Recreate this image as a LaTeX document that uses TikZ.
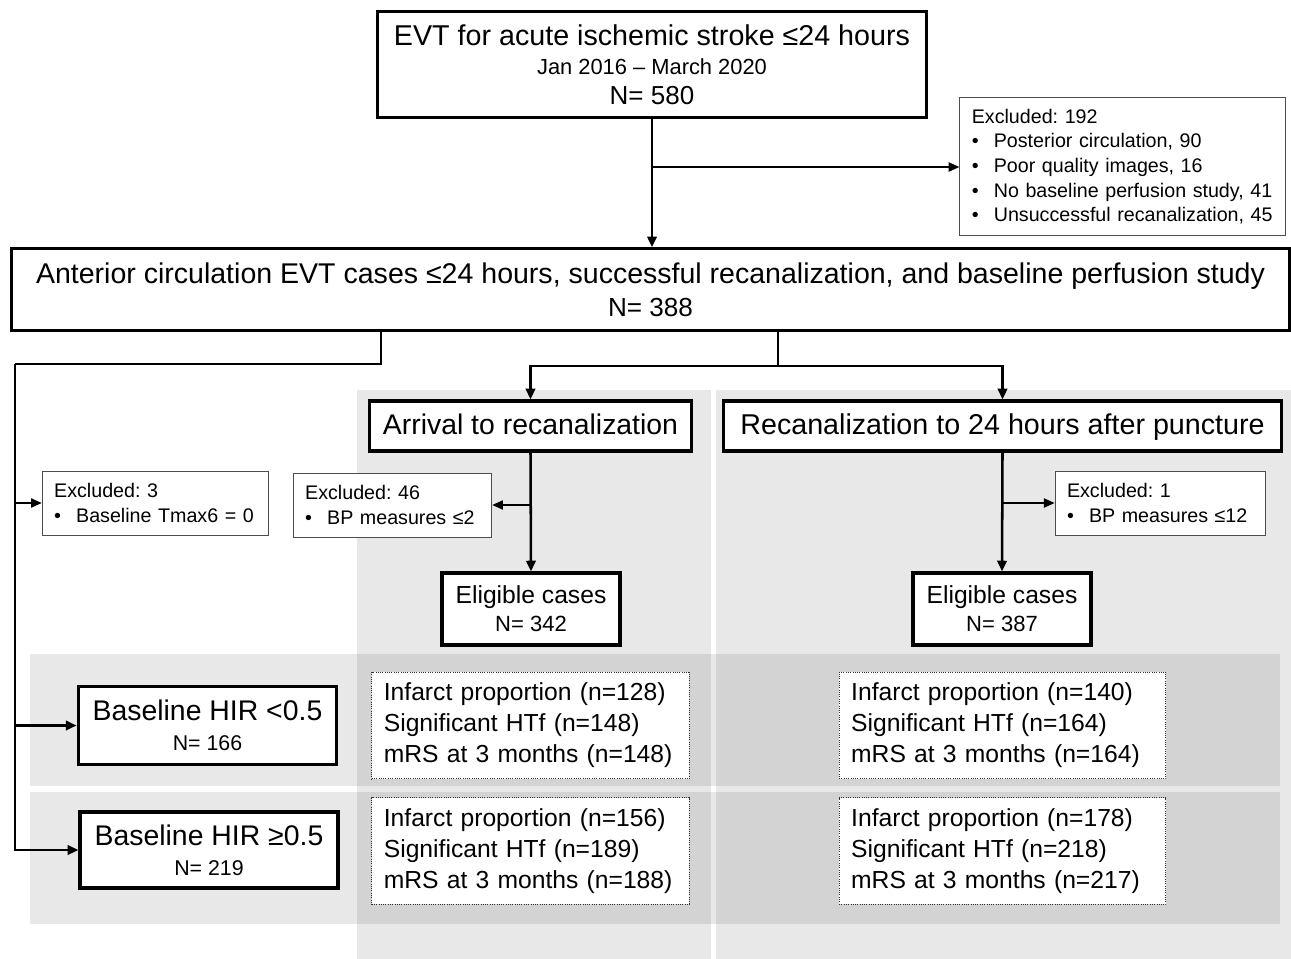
\documentclass[tikz,border=0pt]{standalone}
\usepackage{fontspec}
\setmainfont{Liberation Sans}
\usetikzlibrary{arrows.meta}

\newcommand{\bitem}{\makebox[16.5pt][l]{\textbullet}}

\tikzset{
  mainbox/.style={draw, line width=2.4pt, fill=white, align=center, inner sep=2pt},
  exclbox/.style={draw=black!70, line width=0.7pt, fill=white, align=left, inner sep=2pt,
    inner xsep=9pt, font=\fontsize{14.75}{18.5}\selectfont},
  resbox/.style={draw=black!80, densely dotted, line width=0.7pt, fill=white, align=left,
    inner sep=2pt, inner xsep=9pt, font=\fontsize{18.5}{23.2}\selectfont},
  conn/.style={line width=1.9pt},
  arr/.style={line width=1.9pt, -{Triangle[length=8pt,width=7pt]}},
  thinarr/.style={line width=0.8pt, -{Triangle[length=8pt,width=7pt]}},
  panel/.style={fill=black, fill opacity=0.09}
}

\begin{document}
\frenchspacing
\begin{tikzpicture}[x=0.75pt, y=-0.75pt]
  \useasboundingbox (0,0) rectangle (1291,959);

  % shaded columns and rows
  \fill[panel] (357,390) rectangle (711,959);
  \fill[panel] (716,390) rectangle (1291,959);
  \fill[panel] (30,654) rectangle (1280,786);
  \fill[panel] (30,792) rectangle (1280,924);

  % boxes
  \node[mainbox, minimum width=412pt, minimum height=80pt, font=\fontsize{21.5}{22}\selectfont] (evt) at (652,64.5)
    {EVT for acute ischemic stroke ≤24 hours\\
     {\fontsize{16.4}{22}\selectfont Jan 2016 – March 2020}\\
     {\fontsize{19.5}{22}\selectfont N= 580}};
  \node[exclbox, minimum width=244pt, minimum height=104pt, text width=226pt] (ex192) at (1122.5,166.5)
    {Excluded: 192\\ \bitem Posterior circulation, 90\\ \bitem Poor quality images, 16\\
     \bitem No baseline perfusion study, 41\\ \bitem Unsuccessful recanalization, 45};
  \node[mainbox, minimum width=959pt, minimum height=61pt, font=\fontsize{21.4}{24.5}\selectfont] (ant) at (650.5,289.5)
    {Anterior circulation EVT cases ≤24 hours, successful recanalization, and baseline perfusion study\\
     {\fontsize{19.6}{24.5}\selectfont N= 388}};
  \node[mainbox, minimum width=241pt, minimum height=37.5pt, text height=16pt, text depth=3pt,
    font=\fontsize{21.3}{24}\selectfont] (arrival) at (530.5,426) {Arrival to recanalization};
  \node[mainbox, minimum width=418pt, minimum height=37.5pt, text height=16pt, text depth=3pt,
    font=\fontsize{21.5}{24}\selectfont] (recan) at (1002.5,426) {Recanalization to 24 hours after puncture};
  \node[exclbox, minimum width=170pt, minimum height=48pt, text width=152pt] (ex3) at (155.5,503)
    {Excluded: 3\\ \bitem Baseline Tmax6 = 0};
  \node[exclbox, minimum width=149pt, minimum height=48pt, text width=131pt] (ex46) at (392.5,505)
    {Excluded: 46\\ \bitem BP measures ≤2};
  \node[exclbox, minimum width=157.5pt, minimum height=48pt, text width=139.5pt] (ex1) at (1160,503)
    {Excluded: 1\\ \bitem BP measures ≤12};
  \node[mainbox, minimum width=133.5pt, minimum height=54pt, font=\fontsize{18.5}{21}\selectfont] (elig1) at (531,609)
    {Eligible cases\\ {\fontsize{16.5}{21}\selectfont N= 342}};
  \node[mainbox, minimum width=133.5pt, minimum height=54pt, font=\fontsize{18.5}{21}\selectfont] (elig2) at (1002,609)
    {Eligible cases\\ {\fontsize{16.5}{21}\selectfont N= 387}};
  \node[mainbox, minimum width=194pt, minimum height=58pt, font=\fontsize{21.3}{22.5}\selectfont] (hirlo) at (207.5,725.5)
    {Baseline HIR <0.5\\ {\fontsize{16}{22.5}\selectfont N= 166}};
  \node[mainbox, minimum width=193.5pt, minimum height=57pt, font=\fontsize{21.3}{22.5}\selectfont] (hirhi) at (209,850)
    {Baseline HIR ≥0.5\\ {\fontsize{16}{22.5}\selectfont N= 219}};

  \node[resbox, minimum width=238pt, minimum height=80pt, text width=220pt] (loA) at (530.5,725.5)
    {Infarct proportion (n=128)\\ Significant HTf (n=148)\\ mRS at 3 months (n=148)};
  \node[resbox, minimum width=238pt, minimum height=80pt, text width=220pt] (hiA) at (530.5,851)
    {Infarct proportion (n=156)\\ Significant HTf (n=189)\\ mRS at 3 months (n=188)};
  \node[resbox, minimum width=245pt, minimum height=80pt, text width=227pt] (loR) at (1002.5,725.5)
    {Infarct proportion (n=140)\\ Significant HTf (n=164)\\ mRS at 3 months (n=164)};
  \node[resbox, minimum width=245pt, minimum height=80pt, text width=227pt] (hiR) at (1002.5,851)
    {Infarct proportion (n=178)\\ Significant HTf (n=218)\\ mRS at 3 months (n=217)};

  % junction points
  \coordinate (j192) at (652,167);
  \coordinate (antL) at (381,330);
  \coordinate (antR) at (778,330);
  \coordinate (split) at (778,366);
  \coordinate (j46) at (530,505);
  \coordinate (j1) at (1002,503);

  % connectors
  \draw[arr] (evt.south) -- (evt.south |- ant.north);
  \draw[thinarr] (j192) -- (ex192.west |- j192);
  \draw[conn] (antL) |- (15,364) coordinate (lft);
  \draw[arr] (lft) |- (hirhi.west);
  \draw[thinarr] (lft |- ex3.west) -- (ex3.west);
  \draw[arr] (lft |- hirlo.west) -- (hirlo.west);
  \draw[conn] (antR) -- (split);
  \draw[arr] (split) -| (arrival.north);
  \draw[arr] (split) -| (recan.north);
  \draw[arr] (arrival.south) -- (elig1.north);
  \draw[arr] (recan.south) -- (elig2.north);
  \draw[thinarr] (j46) -- (ex46.east);
  \draw[thinarr] (j1) -- (ex1.west);
\end{tikzpicture}
\end{document}
